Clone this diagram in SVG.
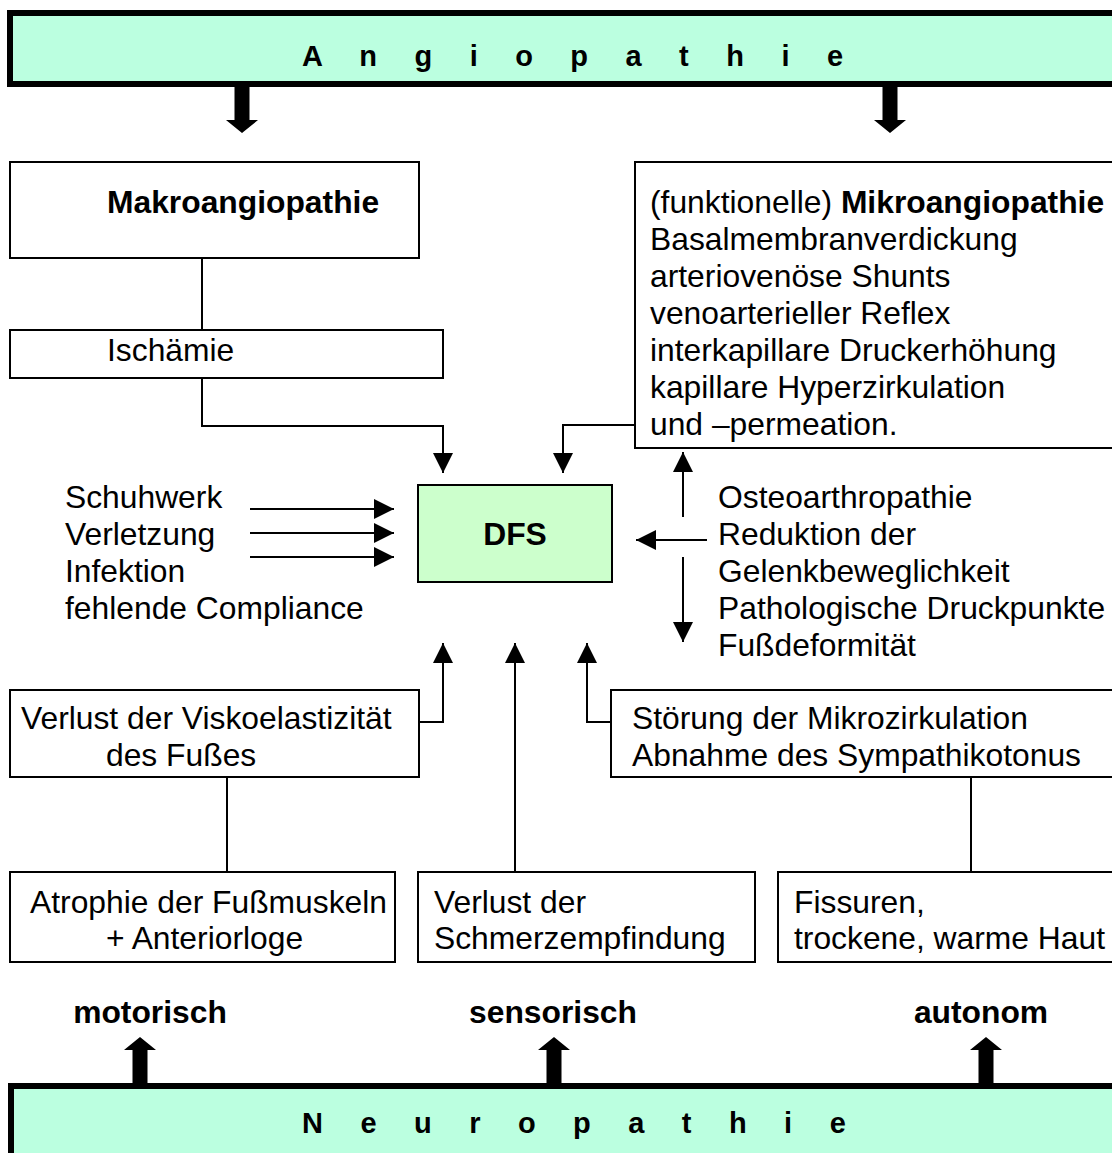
<svg xmlns="http://www.w3.org/2000/svg" width="1112" height="1153" viewBox="0 0 1112 1153">
<style>
text{font-family:"Liberation Sans",Arial,sans-serif;fill:#000}
.t{font-size:31.8px}
.b{font-size:31.8px;font-weight:bold}
.ban{font-size:29px;font-weight:bold;letter-spacing:14.7px}
.box{fill:#fff;stroke:#000;stroke-width:2}
.banner{fill:#BBFFE0;stroke:#000;stroke-width:6}
.ln{fill:none;stroke:#000;stroke-width:2}
.arr{fill:none;stroke:#000;stroke-width:2;marker-end:url(#ah)}
.thick{fill:#000}
</style>
<defs>
<marker id="ah" markerUnits="userSpaceOnUse" markerWidth="20" markerHeight="20" refX="20" refY="10" orient="auto" viewBox="0 0 20 20">
<path d="M0,0 L20,10 L0,20 Z" fill="#000"/>
</marker>
</defs>

<g id="angiopathie">
<rect class="banner" x="10" y="13" width="1110" height="71"/>
<text class="ban" x="302" y="66">A n g i o p a t h i e</text>
</g>

<g id="neuropathie">
<rect class="banner" x="11" y="1086" width="1110" height="80"/>
<text class="ban" x="302" y="1133">N e u r o p a t h i e</text>
</g>

<g id="makro">
<rect class="box" x="10" y="162" width="409" height="96"/>
<text class="b" x="107" y="213">Makroangiopathie</text>
</g>

<g id="ischaemie">
<rect class="box" x="10" y="330" width="433" height="48"/>
<text class="t" x="107" y="361">Ischämie</text>
</g>

<g id="mikro">
<rect class="box" x="635" y="162" width="500" height="286"/>
<text class="t" x="650" y="213">(funktionelle) <tspan font-weight="bold">Mikroangiopathie</tspan></text>
<text class="t" x="650" y="250">Basalmembranverdickung</text>
<text class="t" x="650" y="287">arteriovenöse Shunts</text>
<text class="t" x="650" y="324">venoarterieller Reflex</text>
<text class="t" x="650" y="361">interkapillare Druckerhöhung</text>
<text class="t" x="650" y="398">kapillare Hyperzirkulation</text>
<text class="t" x="650" y="435">und –permeation.</text>
</g>

<g id="dfs">
<rect x="418" y="485" width="194" height="97" fill="#CCFFCC" stroke="#000" stroke-width="2"/>
<text class="b" x="515" y="545" text-anchor="middle">DFS</text>
</g>

<g id="extern">
<text class="t" x="65" y="508">Schuhwerk</text>
<text class="t" x="65" y="545">Verletzung</text>
<text class="t" x="65" y="582">Infektion</text>
<text class="t" x="65" y="619">fehlende Compliance</text>
</g>

<g id="osteo">
<text class="t" x="718" y="508">Osteoarthropathie</text>
<text class="t" x="718" y="545">Reduktion der</text>
<text class="t" x="718" y="582">Gelenkbeweglichkeit</text>
<text class="t" x="718" y="619">Pathologische Druckpunkte</text>
<text class="t" x="718" y="656">Fußdeformität</text>
</g>

<g id="visko">
<rect class="box" x="10" y="690" width="409" height="87"/>
<text class="t" x="21" y="729">Verlust der Viskoelastizität</text>
<text class="t" x="106" y="766">des Fußes</text>
</g>

<g id="stoerung">
<rect class="box" x="611" y="690" width="520" height="87"/>
<text class="t" x="632" y="729">Störung der Mikrozirkulation</text>
<text class="t" x="632" y="766">Abnahme des Sympathikotonus</text>
</g>

<g id="atrophie">
<rect class="box" x="10" y="872" width="385" height="90"/>
<text class="t" x="30" y="913">Atrophie der Fußmuskeln</text>
<text class="t" x="106" y="949">+ Anteriorloge</text>
</g>

<g id="schmerz">
<rect class="box" x="418" y="872" width="337" height="90"/>
<text class="t" x="434" y="913">Verlust der</text>
<text class="t" x="434" y="949">Schmerzempfindung</text>
</g>

<g id="fissuren">
<rect class="box" x="778" y="872" width="360" height="90"/>
<text class="t" x="794" y="913">Fissuren,</text>
<text class="t" x="794" y="949">trockene, warme Haut</text>
</g>

<g id="labels">
<text class="b" x="150" y="1023" text-anchor="middle">motorisch</text>
<text class="b" x="553" y="1023" text-anchor="middle">sensorisch</text>
<text class="b" x="981" y="1023" text-anchor="middle">autonom</text>
</g>

<g id="connectors">
<path class="thick" d="M234.5,86 H249.5 V120 H258 L242,133 L226,120 H234.5 Z"/>
<path class="thick" d="M882.5,86 H897.5 V120 H906 L890,133 L874,120 H882.5 Z"/>
<path class="thick" d="M132.5,1084 H147.5 V1050 H156 L140,1037 L124,1050 H132.5 Z"/>
<path class="thick" d="M546.5,1084 H561.5 V1050 H570 L554,1037 L538,1050 H546.5 Z"/>
<path class="thick" d="M978.5,1084 H993.5 V1050 H1002 L986,1037 L970,1050 H978.5 Z"/>

<path class="ln" d="M202,258 V330"/>
<path class="arr" d="M202,378 V426 H443 V473"/>
<path class="arr" d="M635,425 H563 V473"/>

<path class="arr" d="M250,509 H394"/>
<path class="arr" d="M250,533 H394"/>
<path class="arr" d="M250,557 H394"/>

<path class="arr" d="M683,517 V452"/>
<path class="arr" d="M707,540 H636"/>
<path class="arr" d="M683,557 V642"/>

<path class="arr" d="M419,722 H443 V643"/>
<path class="arr" d="M515,872 V643"/>
<path class="arr" d="M611,722 H587 V643"/>

<path class="ln" d="M227,777 V872"/>
<path class="ln" d="M971,777 V872"/>
</g>
</svg>
